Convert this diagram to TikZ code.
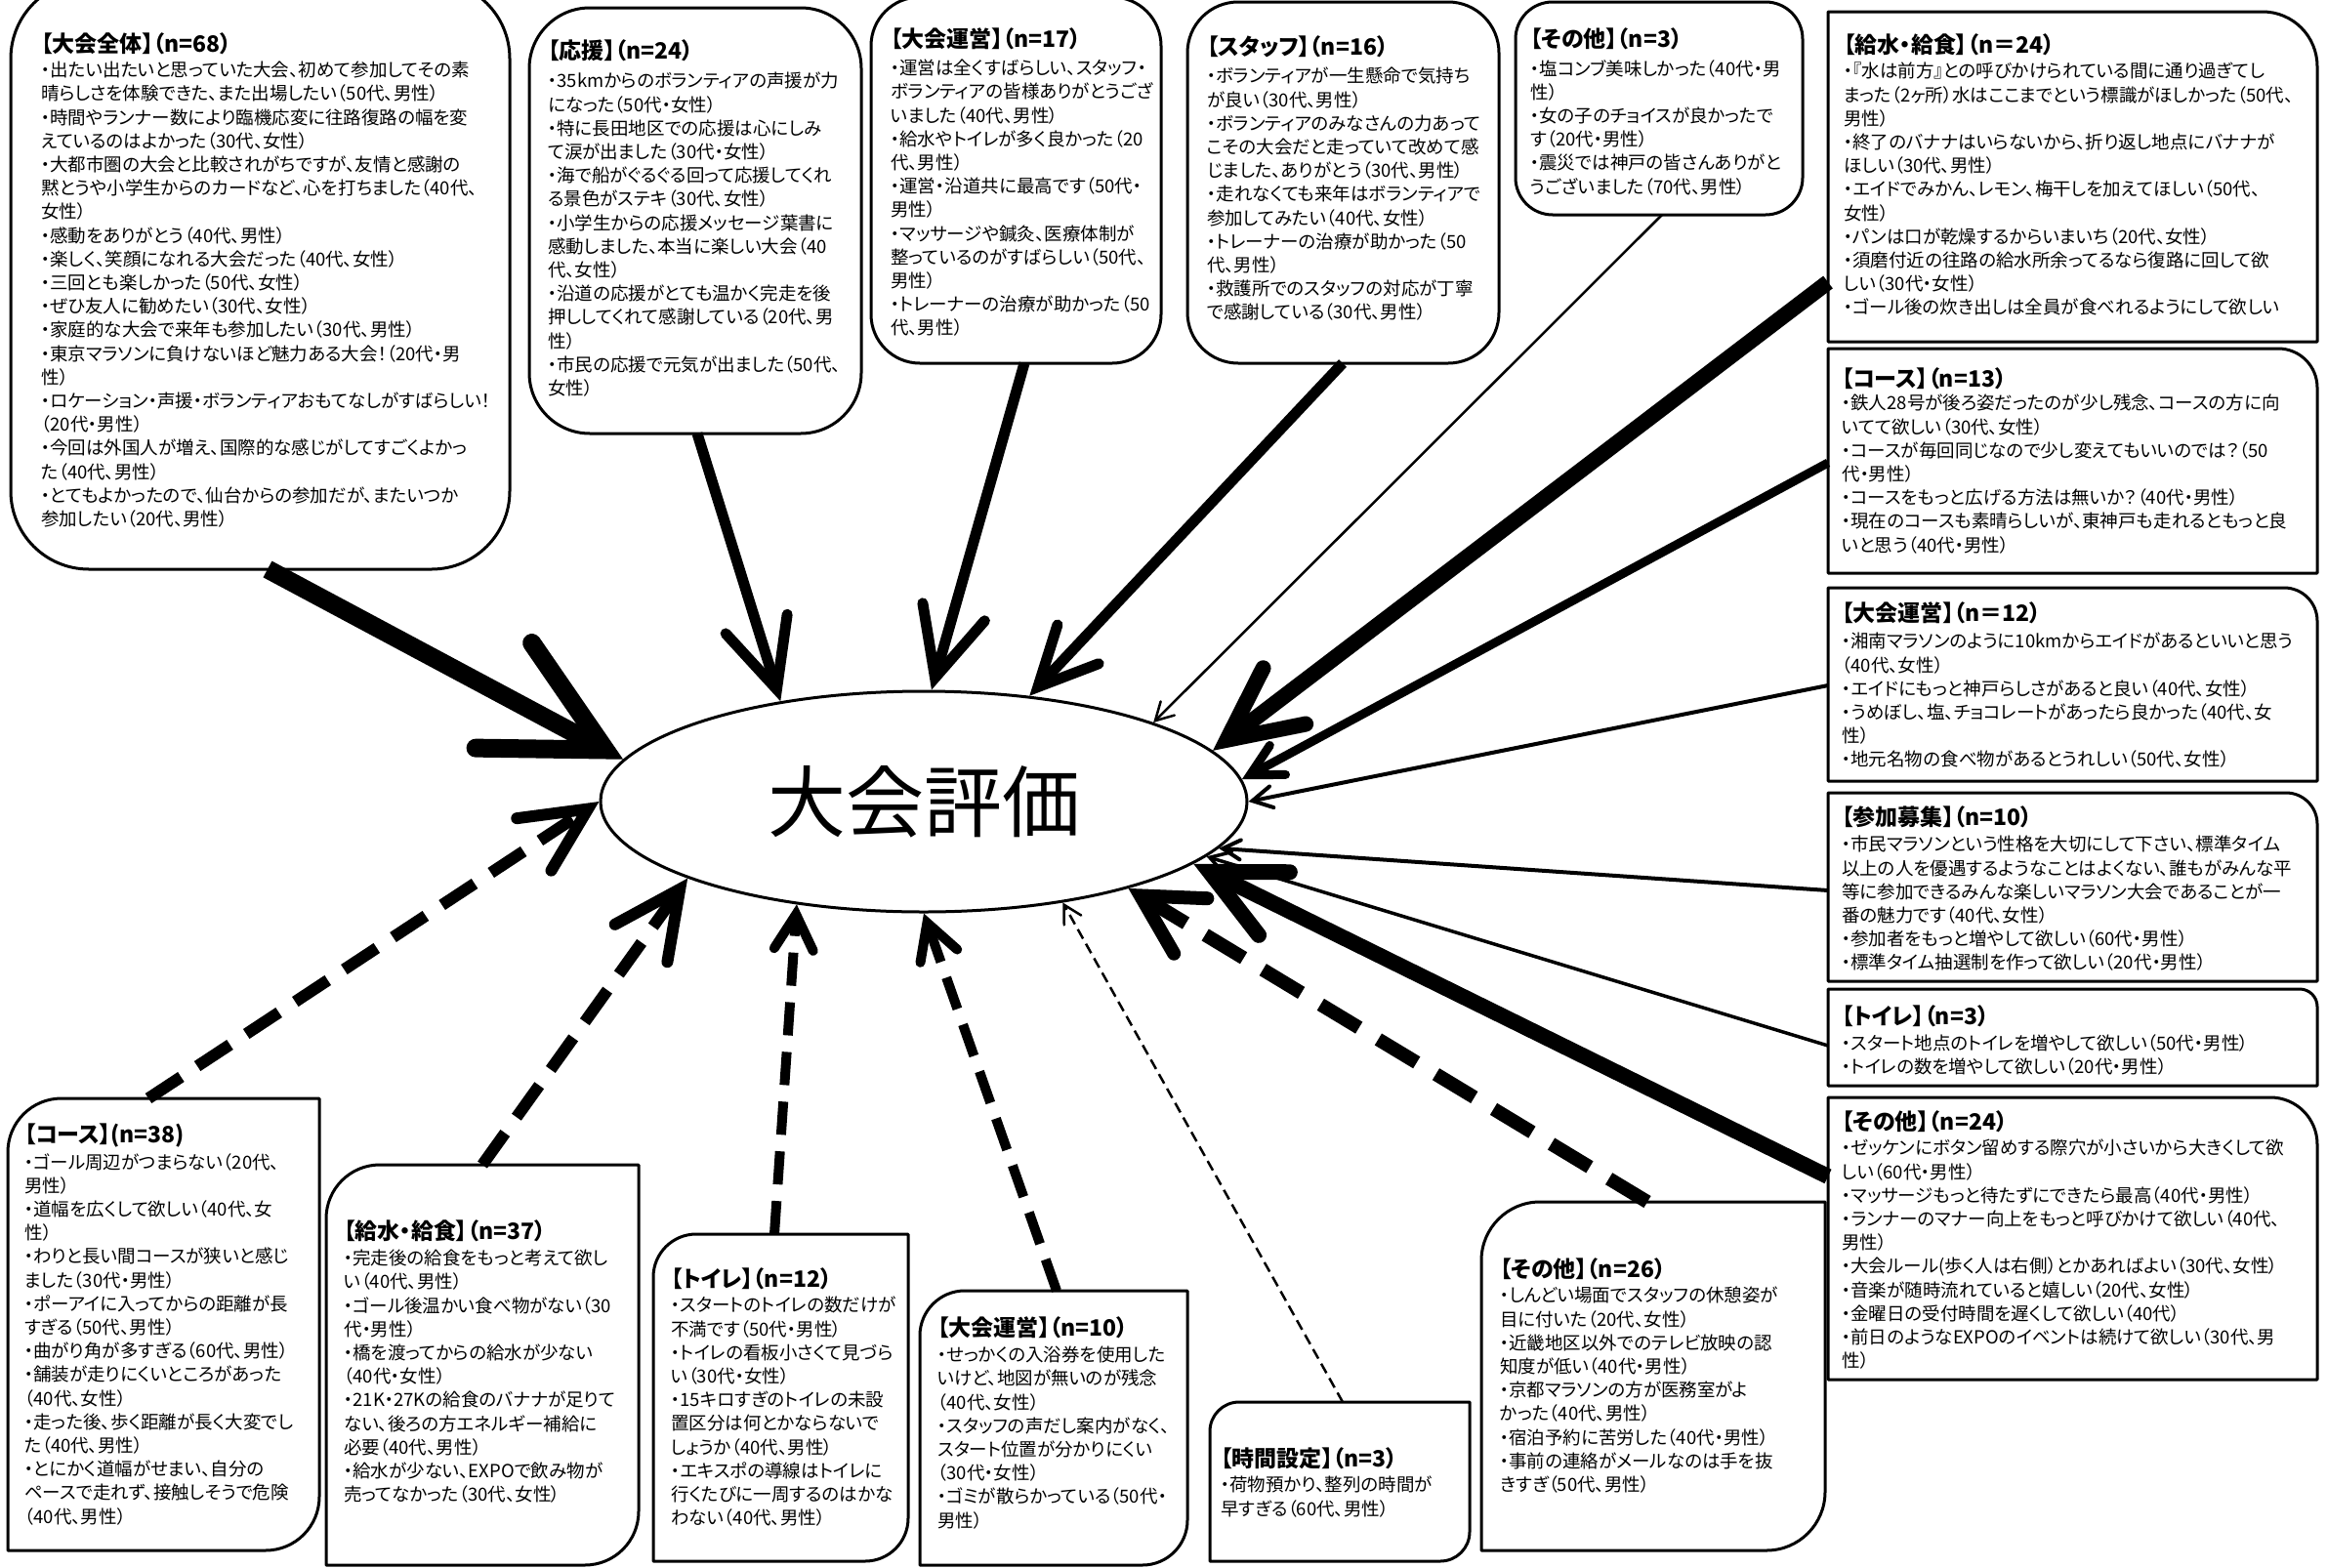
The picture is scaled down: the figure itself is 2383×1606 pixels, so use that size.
\documentclass[tikz,border=0pt]{standalone}
\usepackage{fontspec}
\setmainfont{Noto Sans CJK JP}[RawFeature=+palt]
\usetikzlibrary{arrows.meta,shapes.geometric}
\newcommand\boxTR[2]{%
  \pgfmathsetmacro\rkk{0.4477*#2}%
  \draw[ol] (#1.north west) -- ([xshift=-#2pt]#1.north east) .. controls ([xshift=-\rkk pt]#1.north east) and ([yshift=-\rkk pt]#1.north east) .. ([yshift=-#2pt]#1.north east) -- (#1.south east) -- (#1.south west) -- cycle;}
\newcommand\boxDG[2]{%
  \pgfmathsetmacro\rkk{0.4477*#2}%
  \draw[ol] ([yshift=-#2pt]#1.north west) .. controls ([yshift=-\rkk pt]#1.north west) and ([xshift=\rkk pt]#1.north west) .. ([xshift=#2pt]#1.north west) -- (#1.north east) -- ([yshift=#2pt]#1.south east) .. controls ([yshift=\rkk pt]#1.south east) and ([xshift=-\rkk pt]#1.south east) .. ([xshift=-#2pt]#1.south east) -- (#1.south west) -- cycle;}
\begin{document}
\begin{tikzpicture}[x=1pt,y=-1pt,
  bx/.style={inner sep=0pt,outer sep=0pt},
  ol/.style={line width=3pt,line join=round},
  hd/.style={anchor=west,inner sep=0pt,font=\fontsize{23}{27}\selectfont\bfseries},
  bd/.style={anchor=north west,inner sep=0pt,align=left,font=\fontsize{18.5}{24.2}\selectfont},
  ar/.style n args={3}{line width=#1pt,-{Straight Barb[length=#2pt,width=#3pt,line cap=round,line join=miter]}},
  dsh/.style n args={2}{dash pattern=on #1pt off #2pt}
]
\useasboundingbox (0,0) rectangle (2383,1606);

% ---- box frames (named nodes) ----
\node[bx,minimum width=511pt,minimum height=603pt] (bA) at (266.5,281.5) {};
\node[bx,minimum width=340pt,minimum height=436pt] (bB) at (712,226) {};
\node[bx,minimum width=297pt,minimum height=375pt] (bC) at (1040.5,184.5) {};
\node[bx,minimum width=319pt,minimum height=370pt] (bD) at (1375.5,187) {};
\node[bx,minimum width=294pt,minimum height=218pt] (bE) at (1699,111) {};
\node[bx,minimum width=501pt,minimum height=338pt] (bF) at (2122.5,181) {};
\node[bx,minimum width=501pt,minimum height=230pt] (bG) at (2122.5,472) {};
\node[bx,minimum width=501pt,minimum height=198pt] (bH) at (2122.5,701) {};
\node[bx,minimum width=501pt,minimum height=193pt] (bI) at (2122.5,908.5) {};
\node[bx,minimum width=501pt,minimum height=99pt] (bJ) at (2122.5,1062.5) {};
\node[bx,minimum width=501pt,minimum height=289pt] (bK) at (2122.5,1268.5) {};
\node[bx,minimum width=352pt,minimum height=357pt] (bL) at (1693,1409.5) {};
\node[bx,minimum width=266pt,minimum height=163pt] (bM) at (1372,1517.5) {};
\node[bx,minimum width=274pt,minimum height=281pt] (bN) at (1079,1462.5) {};
\node[bx,minimum width=261pt,minimum height=335pt] (bO) at (799.5,1431.5) {};
\node[bx,minimum width=320pt,minimum height=410pt] (bP) at (494,1398) {};
\node[bx,minimum width=319pt,minimum height=463pt] (bQ) at (167.5,1356.5) {};

\draw[ol,rounded corners=80pt] (bA.north west) rectangle (bA.south east);
\draw[ol,rounded corners=62pt] (bB.north west) rectangle (bB.south east);
\draw[ol,rounded corners=50pt] (bC.north west) rectangle (bC.south east);
\draw[ol,rounded corners=52pt] (bD.north west) rectangle (bD.south east);
\draw[ol,rounded corners=38pt] (bE.north west) rectangle (bE.south east);
\boxTR{bF}{56}
\boxTR{bG}{40}
\boxTR{bH}{34}
\boxTR{bI}{32}
\boxTR{bJ}{18}
\boxTR{bK}{48}
\boxDG{bL}{60}
\boxDG{bM}{30}
\boxDG{bN}{46}
\boxDG{bO}{44}
\boxDG{bP}{55}
\boxDG{bQ}{55}

% ---- central ellipse ----
\node[ellipse,draw,line width=3pt,fill=white,minimum width=662pt,minimum height=226pt,inner sep=0pt,font=\fontsize{80}{90}\selectfont] (ev) at (946,821) {大会評価};

% ---- connectors ----
\draw[ar={19}{118}{122}] ([xshift=263pt]bA.south west) -- (ev.172);
\draw[ar={11}{70}{66}] ([xshift=172pt]bB.south west) -- (ev.145);
\draw[ar={11}{70}{66}] ([xshift=157pt]bC.south west) -- (ev.86);
\draw[ar={11}{60}{58}] ([xshift=159pt]bD.south west) -- (ev.45);
\draw[ar={2.5}{18}{20}] ([xshift=150pt]bE.south west) -- (ev.19);
\draw[ar={16}{74}{72}] ([yshift=-277pt]bF.north west) -- (ev.10.5);
\draw[ar={9}{32}{34}] ([yshift=-117pt]bG.north west) -- (ev.4.4);
\draw[ar={4}{20}{22}] ([yshift=-100pt]bH.north west) -- (ev.0);
\draw[ar={4}{18}{20}] ([yshift=-100pt]bI.north west) -- (ev.-9);
\draw[ar={3.5}{20}{24}] ([yshift=-58pt]bJ.north west) -- (ev.-11);
\draw[ar={16}{74}{72}] ([yshift=-81pt]bK.north west) -- (ev.-13);
\draw[ar={14}{60}{66},dsh={46}{23}] ([xshift=170pt]bL.north west) -- (ev.-23);
\draw[ar={2.5}{18}{20},dsh={11}{6}] ([xshift=136pt]bM.north west) -- (ev.-36);
\draw[ar={10}{36}{40},dsh={34}{17}] ([xshift=140pt]bN.north west) -- (ev.270);
\draw[ar={10}{36}{40},dsh={34}{17}] ([xshift=124pt]bO.north west) -- (ev.219);
\draw[ar={12}{68}{66},dsh={40}{20}] ([xshift=160pt]bP.north west) -- (ev.198);
\draw[ar={12}{66}{64},dsh={40}{20}] ([xshift=144pt]bQ.north west) -- (ev.180);

% ---- texts ----
\node[hd] (hA) at (42,45) {【大会全体】（n=68）};
\node[bd] (tA) at (42,63) {・出たい出たいと思っていた大会、初めて参加してその素\\晴らしさを体験できた、また出場したい（50代、男性）\\・時間やランナー数により臨機応変に往路復路の幅を変\\えているのはよかった（30代、女性）\\・大都市圏の大会と比較されがちですが、友情と感謝の\\黙とうや小学生からのカードなど、心を打ちました（40代、\\女性）\\・感動をありがとう（40代、男性）\\・楽しく、笑顔になれる大会だった（40代、女性）\\・三回とも楽しかった（50代、女性）\\・ぜひ友人に勧めたい（30代、女性）\\・家庭的な大会で来年も参加したい（30代、男性）\\・東京マラソンに負けないほど魅力ある大会！（20代・男\\性）\\・ロケーション・声援・ボランティアおもてなしがすばらしい！\\（20代・男性）\\・今回は外国人が増え、国際的な感じがしてすごくよかっ\\た（40代、男性）\\・とてもよかったので、仙台からの参加だが、またいつか\\参加したい（20代、男性）};

\node[hd] (hB) at (561,52) {【応援】（n=24）};
\node[bd] (tB) at (561,74) {・35kmからのボランティアの声援が力\\になった（50代・女性）\\・特に長田地区での応援は心にしみ\\て涙が出ました（30代・女性）\\・海で船がぐるぐる回って応援してくれ\\る景色がステキ（30代、女性）\\・小学生からの応援メッセージ葉書に\\感動しました、本当に楽しい大会（40\\代、女性）\\・沿道の応援がとても温かく完走を後\\押ししてくれて感謝している（20代、男\\性）\\・市民の応援で元気が出ました（50代、\\女性）};

\node[hd] (hC) at (912,40) {【大会運営】（n=17）};
\node[bd] (tC) at (912,61) {・運営は全くすばらしい、スタッフ・\\ボランティアの皆様ありがとうござ\\いました（40代、男性）\\・給水やトイレが多く良かった（20\\代、男性）\\・運営・沿道共に最高です（50代・\\男性）\\・マッサージや鍼灸、医療体制が\\整っているのがすばらしい（50代、\\男性）\\・トレーナーの治療が助かった（50\\代、男性）};

\node[hd] (hD) at (1236,48) {【スタッフ】（n=16）};
\node[bd] (tD) at (1236,69) {・ボランティアが一生懸命で気持ち\\が良い（30代、男性）\\・ボランティアのみなさんの力あって\\こその大会だと走っていて改めて感\\じました、ありがとう（30代、男性）\\・走れなくても来年はボランティアで\\参加してみたい（40代、女性）\\・トレーナーの治療が助かった（50\\代、男性）\\・救護所でのスタッフの対応が丁寧\\で感謝している（30代、男性）};

\node[hd] (hE) at (1567,40) {【その他】（n=3）};
\node[bd] (tE) at (1567,61) {・塩コンブ美味しかった（40代・男\\性）\\・女の子のチョイスが良かったで\\す（20代・男性）\\・震災では神戸の皆さんありがと\\うございました（70代、男性）};

\node[hd] (hF) at (1888,46) {【給水・給食】（n＝24）};
\node[bd] (tF) at (1888,64) {・『水は前方』との呼びかけられている間に通り過ぎてし\\まった（2ヶ所）水はここまでという標識がほしかった（50代、\\男性）\\・終了のバナナはいらないから、折り返し地点にバナナが\\ほしい（30代、男性）\\・エイドでみかん、レモン、梅干しを加えてほしい（50代、\\女性）\\・パンは口が乾燥するからいまいち（20代、女性）\\・須磨付近の往路の給水所余ってるなら復路に回して欲\\しい（30代・女性）\\・ゴール後の炊き出しは全員が食べれるようにして欲しい};

\node[hd] (hG) at (1886,388) {【コース】（n=13）};
\node[bd] (tG) at (1886,404) {・鉄人28号が後ろ姿だったのが少し残念、コースの方に向\\いてて欲しい（30代、女性）\\・コースが毎回同じなので少し変えてもいいのでは？（50\\代・男性）\\・コースをもっと広げる方法は無いか？（40代・男性）\\・現在のコースも素晴らしいが、東神戸も走れるともっと良\\いと思う（40代・男性）};

\node[hd] (hH) at (1886,628) {【大会運営】（n＝12）};
\node[bd] (tH) at (1886,648) {・湘南マラソンのように10kmからエイドがあるといいと思う\\（40代、女性）\\・エイドにもっと神戸らしさがあると良い（40代、女性）\\・うめぼし、塩、チョコレートがあったら良かった（40代、女\\性）\\・地元名物の食べ物があるとうれしい（50代、女性）};

\node[hd] (hI) at (1886,837) {【参加募集】（n=10）};
\node[bd] (tI) at (1886,856) {・市民マラソンという性格を大切にして下さい、標準タイム\\以上の人を優遇するようなことはよくない、誰もがみんな平\\等に参加できるみんな楽しいマラソン大会であることが一\\番の魅力です（40代、女性）\\・参加者をもっと増やして欲しい（60代・男性）\\・標準タイム抽選制を作って欲しい（20代・男性）};

\node[hd] (hJ) at (1886,1041) {【トイレ】（n=3）};
\node[bd] (tJ) at (1886,1059) {・スタート地点のトイレを増やして欲しい（50代・男性）\\・トイレの数を増やして欲しい（20代・男性）};

\node[hd] (hK) at (1886,1149) {【その他】（n=24）};
\node[bd] (tK) at (1886,1167) {・ゼッケンにボタン留めする際穴が小さいから大きくして欲\\しい（60代・男性）\\・マッサージもっと待たずにできたら最高（40代・男性）\\・ランナーのマナー向上をもっと呼びかけて欲しい（40代、\\男性）\\・大会ルール(歩く人は右側）とかあればよい（30代、女性）\\・音楽が随時流れていると嬉しい（20代、女性）\\・金曜日の受付時間を遅くして欲しい（40代）\\・前日のようなEXPOのイベントは続けて欲しい（30代、男\\性）};

\node[hd] (hL) at (1536,1300) {【その他】（n=26）};
\node[bd] (tL) at (1536,1318) {・しんどい場面でスタッフの休憩姿が\\目に付いた（20代、女性）\\・近畿地区以外でのテレビ放映の認\\知度が低い（40代・男性）\\・京都マラソンの方が医務室がよ\\かった（40代、男性）\\・宿泊予約に苦労した（40代・男性）\\・事前の連絡がメールなのは手を抜\\きすぎ（50代、男性）};

\node[hd] (hM) at (1250,1494) {【時間設定】（n=3）};
\node[bd] (tM) at (1250,1512) {・荷物預かり、整列の時間が\\早すぎる（60代、男性）};

\node[hd] (hN) at (960,1360) {【大会運営】（n=10）};
\node[bd] (tN) at (960,1379) {・せっかくの入浴券を使用した\\いけど、地図が無いのが残念\\（40代、女性）\\・スタッフの声だし案内がなく、\\スタート位置が分かりにくい\\（30代・女性）\\・ゴミが散らかっている（50代・\\男性）};

\node[hd] (hO) at (687,1310) {【トイレ】（n=12）};
\node[bd] (tO) at (687,1328) {・スタートのトイレの数だけが\\不満です（50代・男性）\\・トイレの看板小さくて見づら\\い（30代・女性）\\・15キロすぎのトイレの未設\\置区分は何とかならないで\\しょうか（40代、男性）\\・エキスポの導線はトイレに\\行くたびに一周するのはかな\\わない（40代、男性）};

\node[hd] (hP) at (352,1261) {【給水・給食】（n=37）};
\node[bd] (tP) at (352,1280) {・完走後の給食をもっと考えて欲し\\い（40代、男性）\\・ゴール後温かい食べ物がない（30\\代・男性）\\・橋を渡ってからの給水が少ない\\（40代・女性）\\・21K・27Kの給食のバナナが足りて\\ない、後ろの方エネルギー補給に\\必要（40代、男性）\\・給水が少ない、EXPOで飲み物が\\売ってなかった（30代、女性）};

\node[hd] (hQ) at (25,1163) {【コース】(n=38)};
\node[bd] (tQ) at (25,1181) {・ゴール周辺がつまらない（20代、\\男性）\\・道幅を広くして欲しい（40代、女\\性）\\・わりと長い間コースが狭いと感じ\\ました（30代・男性）\\・ポーアイに入ってからの距離が長\\すぎる（50代、男性）\\・曲がり角が多すぎる（60代、男性）\\・舗装が走りにくいところがあった\\（40代、女性）\\・走った後、歩く距離が長く大変でし\\た（40代、男性）\\・とにかく道幅がせまい、自分の\\ペースで走れず、接触しそうで危険\\（40代、男性）};
\end{tikzpicture}
\end{document}
